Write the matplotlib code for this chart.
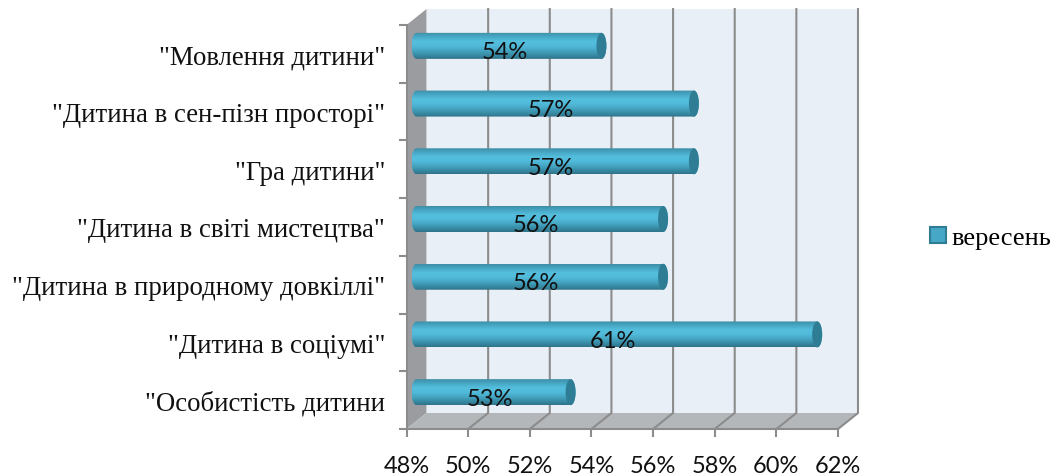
#%%
# horizontal cylinder chart, fake 3d walls drawn by hand
import numpy as np
import matplotlib
matplotlib.use('Agg')
import matplotlib.pyplot as plt
from matplotlib.colors import LinearSegmentedColormap
from matplotlib.patches import Polygon, Patch, Ellipse
from matplotlib.path import Path


#%%
categories = ['"Особистість дитини', '"Дитина в соціумі"', '"Дитина в природному довкіллі"',
              '"Дитина в світі мистецтва"', '"Гра дитини"', '"Дитина в сен-пізн просторі"',
              '"Мовлення дитини"']
values = [53, 61, 56, 56, 57, 57, 54]
value_labels = ['53%', '61%', '56%', '56%', '57%', '57%', '54%']
x_ticks = [48, 50, 52, 54, 56, 58, 60, 62]
x_tick_labels = ['48%', '50%', '52%', '54%', '56%', '58%', '60%', '62%']
series_name = 'вересень'

width_px = 1060
height_px = 477
left_px, right_px = 406.5, 838
top_px, bottom_px = 26, 430
serif = 'Liberation Serif'
sans = 'Lato'
line_color = '#8c8c8c'
cap_color = '#2f7d95'
body_cmap = LinearSegmentedColormap.from_list(
    'body', ['#3f8ea6', '#47a9c6', '#54bedd', '#52bbdb', '#47a8c5', '#3a90aa', '#2f7389'])

# depth of the fake 3d box, in data units
dx = 20 / ((right_px - left_px) / 14)
dy = 16 / ((bottom_px - top_px) / 7)


#%%
def draw_walls(ax):
    ax.add_patch(Polygon([(48 + dx, dy), (62 + dx, dy), (62 + dx, 7 + dy), (48 + dx, 7 + dy)],
                         color='#e9eff6', lw=0, clip_on=False, zorder=1))
    ax.add_patch(Polygon([(48, 0), (48 + dx, dy), (48 + dx, 7 + dy), (48, 7)],
                         color='#9a9c9f', lw=0, clip_on=False, zorder=1))
    ax.add_patch(Polygon([(48, 0), (62, 0), (62 + dx, dy), (48 + dx, dy)],
                         color='#b3b7b9', lw=0, clip_on=False, zorder=1))
    for x in x_ticks[1:]:
        ax.plot([x, x + dx, x + dx], [0, dy, 7 + dy], color=line_color, lw=1.5,
                clip_on=False, zorder=2, solid_joinstyle='miter')


#%%
def draw_bar(ax, pos, value, label):
    yc = pos + 0.5 + dy / 2
    half = 13 / ((bottom_px - top_px) / 7)
    rx = 5 / ((right_px - left_px) / 14)
    x0 = 48 + dx / 2
    x1 = value + dx / 2

    t = np.linspace(np.pi / 2, 3 * np.pi / 2, 30)
    xs = np.concatenate([x0 + rx * np.cos(t), x1 - rx * np.cos(t)])
    ys = np.concatenate([yc + half * np.sin(t), yc - half * np.sin(t)])
    outline = Path(np.column_stack([xs, ys]))

    grad = np.linspace(0, 1, 64).reshape(-1, 1)
    im = ax.imshow(grad, cmap=body_cmap, aspect='auto', origin='upper', zorder=3,
                   extent=[x0 - rx, x1 + rx, yc - half, yc + half])
    im.set_clip_path(outline, ax.transData)
    ax.add_patch(Ellipse((x1, yc), 2 * rx, 2 * half, color=cap_color, lw=0, zorder=4))

    ax.text(x0 + (x1 - x0) / 2 - 4 / ((right_px - left_px) / 14), yc - 6 / ((bottom_px - top_px) / 7),
            label, ha='center', va='center', fontsize=17, family=sans, color='#111111', zorder=5)


#%%
fig = plt.figure(figsize=(width_px / 100, height_px / 100), dpi=100)
ax = fig.add_axes([left_px / width_px, 1 - bottom_px / height_px,
                   (right_px - left_px) / width_px, (bottom_px - top_px) / height_px])
ax.patch.set_visible(False)

draw_walls(ax)
for i in range(len(values)):
    draw_bar(ax, i, values[i], value_labels[i])

ax.set_xlim(48, 62)
ax.set_ylim(0, 7)

ax.spines['top'].set_visible(False)
ax.spines['right'].set_visible(False)
for s in ['left', 'bottom']:
    ax.spines[s].set_color(line_color)
    ax.spines[s].set_linewidth(1.5)

ax.set_xticks(x_ticks)
ax.set_xticklabels(x_tick_labels, family=sans, fontsize=17, color='#111111')
ax.tick_params(axis='x', length=6, width=1.5, color=line_color, pad=13)

ax.set_yticks(range(8))
ax.set_yticklabels([])
ax.tick_params(axis='y', which='major', length=6, width=1.5, color=line_color)
ax.set_yticks(np.arange(len(categories)) + 0.5, minor=True)
ax.set_yticklabels(categories, minor=True, family=serif, fontsize=19.3, color='#111111')
ax.tick_params(axis='y', which='minor', length=0, pad=15.5)

handle = Patch(facecolor='#46a8c6', edgecolor=cap_color, linewidth=1.5)
fig.legend([handle], [series_name], loc='center left', bbox_to_anchor=(930 / width_px, 1 - 239 / height_px),
           frameon=False, prop={'family': serif, 'size': 19}, handlelength=0.6, handleheight=0.6,
           handletextpad=0.2, borderpad=0, borderaxespad=0)

fig.savefig('out.png', dpi=100)
plt.close()
